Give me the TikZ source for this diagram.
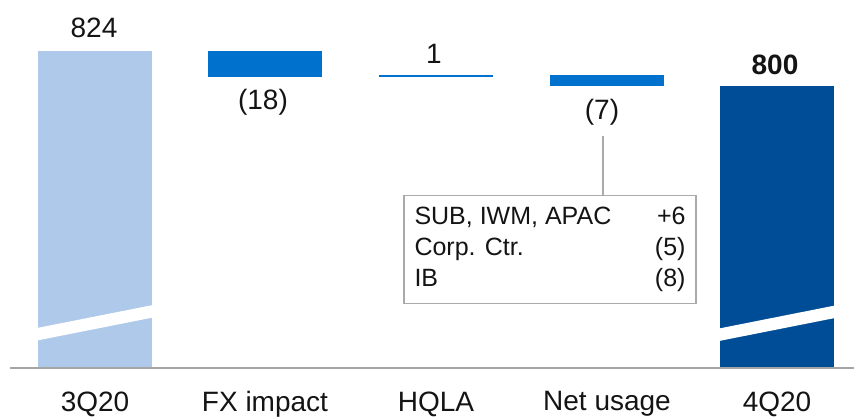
\documentclass[tikz,border=0pt]{standalone}
\usepackage{fontspec}
\setmainfont{Liberation Sans}
\definecolor{lightbar}{RGB}{174,201,233}
\definecolor{midbar}{RGB}{0,113,205}
\definecolor{darkbar}{RGB}{0,77,151}
\definecolor{axisgrey}{RGB}{166,166,166}
\definecolor{boxgrey}{RGB}{170,170,170}
\definecolor{txt}{RGB}{20,20,20}
\begin{document}
\begin{tikzpicture}[x=1pt,y=-1pt,
  lbl/.style={text=txt,inner sep=0pt,font=\fontsize{28}{31}\selectfont},
  boldlbl/.style={lbl,font=\fontsize{28}{31}\selectfont\bfseries},
  calloutbox/.style={draw=boxgrey,line width=1.3pt,fill=white,inner sep=0pt,
    minimum width=292pt,minimum height=108pt,text=txt},
  leader/.style={draw=boxgrey,line width=1.3pt}]
\useasboundingbox (0,0) rectangle (854,418);
% bars
\fill[lightbar] (38,51) rectangle (152,368);
\fill[white] (37,328) -- (153,305) -- (153,317.5) -- (37,340.5) -- cycle;
\fill[midbar] (208,51) rectangle (322,77);
\fill[midbar] (379,74.7) rectangle (493,76.7);
\fill[midbar] (550,75) rectangle (664,85.7);
\fill[darkbar] (720,86) rectangle (834,368);
\fill[white] (719,328.5) -- (835,305.5) -- (835,318) -- (719,341) -- cycle;
% axis
\draw[axisgrey,line width=1.4pt] (10,368) -- (854,368);
% value labels
\node[lbl] (v1) at (94,28) {824};
\node[lbl] (v2) at (263,102) {(18)};
\node[lbl] (v3) at (434,54) {1};
\node[lbl] (v4) at (602,112) {(7)};
\node[boldlbl] (v5) at (775,65) {800};
% category labels
\node[lbl] (c1) at (95,404) {3Q20};
\node[lbl] (c2) at (265,404) {FX impact};
\node[lbl] (c3) at (436,404) {HQLA};
\node[lbl] (c4) at (607,404) {Net usage};
\node[lbl] (c5) at (777,404) {4Q20};
% callout
\node[calloutbox] (box) at (550,249.5) {\fontsize{25}{31}\selectfont
  \begin{tabular*}{271pt}{@{}l@{\extracolsep{\fill}}r@{}}
  SUB, IWM, APAC & +6\\
  Corp. Ctr. & (5)\\
  IB & (8)
  \end{tabular*}};
\coordinate (lead) at (603,136);
\draw[leader] (lead) -- (box.north -| lead);
\end{tikzpicture}
\end{document}
